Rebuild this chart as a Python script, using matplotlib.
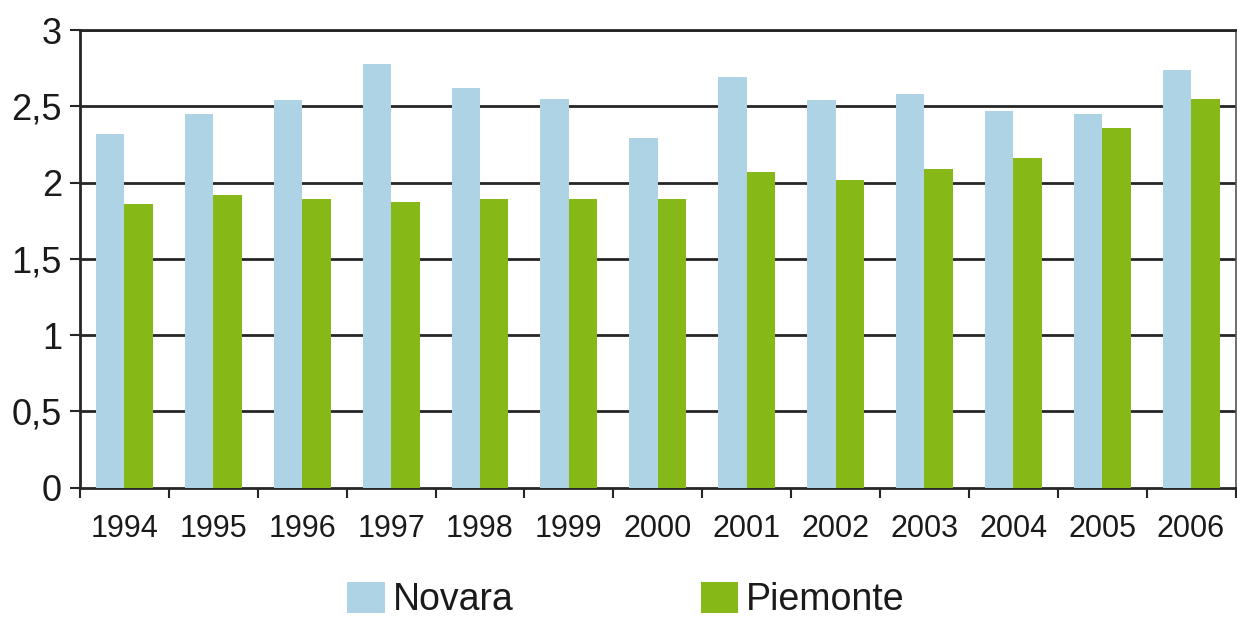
import numpy as np
import matplotlib
matplotlib.use("Agg")
import matplotlib.pyplot as plt

plt.rcParams["font.family"] = ["Liberation Sans", "DejaVu Sans"]

# dati
anni = ["1994", "1995", "1996", "1997", "1998", "1999", "2000",
        "2001", "2002", "2003", "2004", "2005", "2006"]
novara = [2.32, 2.45, 2.54, 2.78, 2.62, 2.55, 2.29, 2.69, 2.54, 2.58, 2.47, 2.45, 2.74]
piemonte = [1.86, 1.92, 1.89, 1.87, 1.89, 1.89, 1.89, 2.07, 2.02, 2.09, 2.16, 2.36, 2.55]
yticks = [0, 0.5, 1, 1.5, 2, 2.5, 3]
ylabels = ["0", "0,5", "1", "1,5", "2", "2,5", "3"]

col_nov = "#aed3e5"
col_pie = "#86b817"
txt = "#1a1a1a"

fig = plt.figure(figsize=(12.37, 6.2), dpi=100)
ax = fig.add_axes([80 / 1237, 1 - 487.7 / 620, 1155.5 / 1237, (487.7 - 30) / 620])

x = np.arange(len(anni))
w = 0.32
ax.bar(x - w / 2, novara, width=w, color=col_nov, label="Novara", zorder=3)
ax.bar(x + w / 2, piemonte, width=w, color=col_pie, label="Piemonte", zorder=3)

ax.set_xlim(-0.5, len(anni) - 0.5)
ax.set_ylim(0, 3)

# griglia orizzontale
for v in yticks[1:]:
    ax.axhline(v, color="#262626", lw=2, zorder=2)

ax.set_yticks(yticks)
ax.set_yticklabels(ylabels)
ax.set_xticks(np.arange(-0.5, len(anni), 1.0))
ax.set_xticklabels([])
ax.set_xticks(x, minor=True)
ax.set_xticklabels(anni, minor=True)
ax.tick_params(axis="x", which="major", length=7, width=1.5, direction="out", color="#262626")
ax.tick_params(axis="x", which="minor", length=0, pad=19, labelsize=22, labelcolor=txt)
ax.tick_params(axis="y", length=7, width=1.5, direction="out", color="#262626",
               labelsize=26, labelcolor=txt, pad=6)

for s in ["left", "bottom", "top"]:
    ax.spines[s].set_color("#262626")
    ax.spines[s].set_linewidth(2)
ax.spines["right"].set_color("#555555")
ax.spines["right"].set_linewidth(1.2)

fig.legend(loc="center", bbox_to_anchor=(0.506, 0.032), ncol=2, frameon=False,
           fontsize=27, handlelength=1.0, handleheight=0.9, handletextpad=0.2,
           columnspacing=5.0, labelcolor=txt)

fig.savefig("out.png", dpi=100, facecolor="white")
